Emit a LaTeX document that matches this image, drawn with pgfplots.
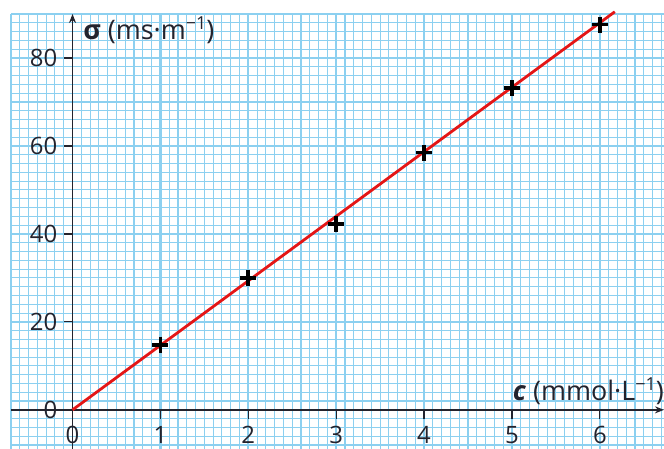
\documentclass[border=0pt]{standalone}
\usepackage{pgfplots}
\pgfplotsset{compat=1.18}
\usetikzlibrary{arrows.meta}
\usepackage{fontspec}
\setmainfont{Open Sans}
\definecolor{gridblue}{RGB}{140,208,240}
\definecolor{axisdark}{RGB}{35,35,45}
\definecolor{fitred}{RGB}{228,22,22}
\newcommand\tickf{\fontsize{24}{28}\selectfont}
\newcommand\bigf{\fontsize{27}{31}\selectfont}
\newcommand\supf{\fontsize{18}{21}\selectfont}
\begin{document}
\begin{tikzpicture}
\begin{axis}[
  scale only axis,
  width=653bp, height=435bp,
  xmin=-0.7, xmax=6.73,
  ymin=-8.9, ymax=90,
  axis lines=middle,
  axis line style={axisdark, line width=1.4bp, -{Stealth[length=9bp,width=7bp]}},
  xtick={0,...,6},
  ytick={0,20,...,80},
  minor xtick={-0.7,-0.6,...,6.75},
  minor ytick={-8,-6,...,90},
  grid=both,
  major grid style={gridblue, line width=2.2bp},
  minor grid style={gridblue, line width=1.1bp},
  tick align=outside,
  major tick length=9bp,
  minor tick length=0pt,
  tick style={axisdark, line width=1.2bp},
  ticklabel style={font=\tickf, text=axisdark, inner sep=1bp, text height=17bp, text depth=0pt},
  xticklabel style={yshift=-6.5bp},
  yticklabel style={xshift=-5bp},
  /pgf/number format/assume math mode=true,
  clip=false,
]
\addplot[fitred, line width=2.8bp] coordinates {(0,0) (6.17,90.5)};
\addplot[only marks, mark=+, mark size=8bp, line width=3.6bp, black] coordinates {
  (1,14.8) (2,30.0) (3,42.3) (4,58.5) (5,73.2) (6,87.6)
};
\node[anchor=north, text=axisdark, font=\tickf, inner sep=0pt, text height=17bp, text depth=0pt] at ([yshift=-16.5bp]axis cs:0,0) {0};
\node[anchor=east, text=axisdark, font=\tickf, inner sep=0pt, text height=17bp, text depth=0pt] at ([xshift=-15bp]axis cs:0,0) {0};
\node[anchor=west, inner sep=0pt, text=axisdark, font=\bigf] at (axis cs:0.12,86.3) {\textbf{σ} (ms·m\raisebox{0.65ex}{\supf −1})};
\node[anchor=base east, inner sep=0pt, text=axisdark, font=\bigf] at (axis cs:6.73,2.2) {\textbf{\textit{c}} (mmol·L\raisebox{0.65ex}{\supf −1})};
\coordinate (sw) at (rel axis cs:0,0);
\coordinate (ne) at (rel axis cs:1,1);
\end{axis}
\pgfresetboundingbox
\path ([xshift=-11bp]sw) rectangle ([yshift=14bp]ne);
\end{tikzpicture}
\end{document}
